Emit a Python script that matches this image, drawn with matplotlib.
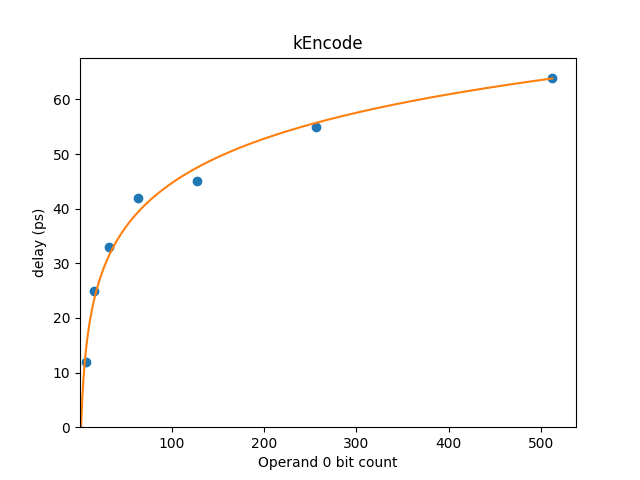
import numpy as np
import matplotlib
matplotlib.use("Agg")
import matplotlib.pyplot as plt

bits = [8, 16, 32, 64, 128, 256, 512]
delay = [12, 25, 33, 42, 45, 55, 64]

a, b = np.polyfit(np.log(bits), delay, 1)
xs = np.linspace(1, 512, 1000)
fig, ax = plt.subplots(figsize=(6.4, 4.8), dpi=100)
ax.scatter(bits, delay)
ax.plot(xs, a * np.log(xs) + b, color="C1")
ax.set_xlim(left=1)
ax.set_ylim(bottom=0)
ax.set_title("kEncode")
ax.set_xlabel("Operand 0 bit count")
ax.set_ylabel("delay (ps)")
fig.savefig("out.png")
